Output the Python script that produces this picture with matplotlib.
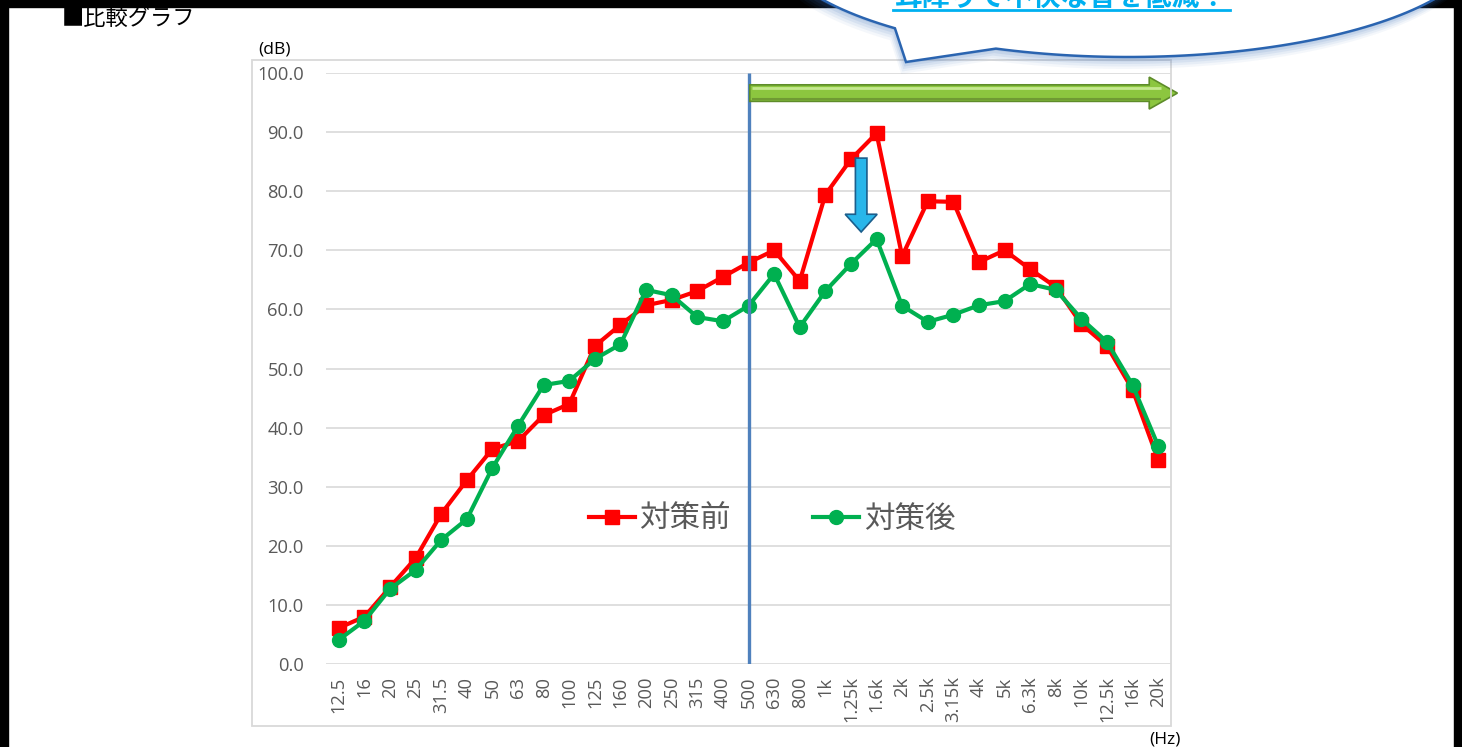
import numpy as np
import matplotlib
matplotlib.use('Agg')
import matplotlib.pyplot as plt
from matplotlib.patches import Polygon, Rectangle, FancyArrow

plt.rcParams['font.family'] = ['Open Sans', 'Noto Sans CJK JP', 'DejaVu Sans']

# 1/3 octave band centre frequencies
freqs = ['12.5', '16', '20', '25', '31.5', '40', '50', '63', '80', '100',
         '125', '160', '200', '250', '315', '400', '500', '630', '800', '1k',
         '1.25k', '1.6k', '2k', '2.5k', '3.15k', '4k', '5k', '6.3k', '8k',
         '10k', '12.5k', '16k', '20k']

# sound level (dB) before / after countermeasure
before = [6.1, 8.0, 13.0, 17.9, 25.4, 31.1, 36.4, 37.7, 42.1, 44.0,
          53.8, 57.4, 60.7, 61.6, 63.1, 65.5, 67.9, 70.0, 64.8, 79.4,
          85.4, 89.8, 69.0, 78.3, 78.2, 68.0, 70.0, 66.8, 63.8,
          57.5, 53.8, 46.4, 34.5]
after = [4.1, 7.3, 12.7, 15.9, 21.0, 24.5, 33.2, 40.3, 47.2, 47.9,
         51.6, 54.1, 63.3, 62.4, 58.7, 58.0, 60.6, 66.0, 57.0, 63.1,
         67.7, 71.9, 60.6, 57.9, 59.1, 60.7, 61.4, 64.3, 63.3,
         58.4, 54.5, 47.2, 36.9]

labels = ['対策前', '対策後']
title = '■比較グラフ'
callout = '耳障りで不快な音を低減！'

W, H = 1462, 747
fig = plt.figure(figsize=(W / 100, H / 100), dpi=100)
fig.patch.set_facecolor('white')

# main plot area (pixel box 326..1171 x, 73..664 y)
ax = fig.add_axes([326 / W, (H - 664) / H, 845 / W, 591 / H], zorder=1)
x = np.arange(len(freqs))
ax.plot(x, before, color='#ff0000', lw=3, marker='s', ms=10,
        label=labels[0], zorder=4)
ax.plot(x, after, color='#00b050', lw=3, marker='o', ms=10,
        label=labels[1], zorder=5)
ax.vlines(freqs.index('500'), 0, 100, color='#4f81bd', lw=2.4, zorder=6)

ax.set_xlim(-0.5, len(freqs) - 0.5)
ax.set_ylim(0, 100)
ax.set_yticks(np.arange(0, 101, 10))
ax.set_yticklabels([f'{v:.1f}' for v in np.arange(0, 101, 10)])
ax.set_xticks(x)
ax.set_xticklabels(freqs, rotation=90)
ax.tick_params(axis='y', length=0, pad=16, labelsize=13.2, labelcolor='#595959')
ax.tick_params(axis='x', length=0, pad=9, labelsize=13.2, labelcolor='#595959')
ax.yaxis.grid(True, color='#d9d9d9', lw=1.2)
ax.set_axisbelow(True)
for s in ax.spines.values():
    s.set_visible(False)

# green range arrow (500 Hz and above)
i500 = freqs.index('500')
ga = FancyArrow(i500 + 0.05, 96.6, len(freqs) - 0.5 - (i500 + 0.05) + 0.25, 0,
                width=2.8, head_width=5.4, head_length=1.1,
                length_includes_head=True, fc='#8cc63f', ec='#5e8c2a',
                lw=1.2, clip_on=False, zorder=8)
ax.add_patch(ga)
ax.plot([i500 + 0.15, len(freqs) - 0.9], [97.5, 97.5], color='#c5e88f',
        lw=2, clip_on=False, zorder=9, solid_capstyle='butt')
ax.plot([i500 + 0.15, len(freqs) - 0.9], [95.6, 95.6], color='#6f9a33',
        lw=1.5, clip_on=False, zorder=9, solid_capstyle='butt')

# blue reduction arrow near the peak
ba = FancyArrow(20.4, 85.6, 0, -12.5, width=0.45, head_width=1.25,
                head_length=3.0, length_includes_head=True,
                fc='#29b6ea', ec='#1b5e8c', lw=1.2, clip_on=False, zorder=8)
ax.add_patch(ba)

leg = ax.legend(ncol=2, loc='center', bbox_to_anchor=(772 / W, (H - 519) / H),
                bbox_transform=fig.transFigure, frameon=False,
                prop={'family': ['Noto Sans CJK JP'], 'size': 22},
                handlelength=1.5, handletextpad=0.15, columnspacing=2.7)
for t in leg.get_texts():
    t.set_color('#595959')

# overlay in pixel coordinates for page decorations
ov = fig.add_axes([0, 0, 1, 1], zorder=3)
ov.set_xlim(0, W)
ov.set_ylim(H, 0)
ov.axis('off')
ov.patch.set_visible(False)

# chart frame
ov.add_patch(Rectangle((252, 60), 919, 666, fill=False, ec='#d9d9d9', lw=1.3))

# page border
ov.add_patch(Rectangle((0, 0), 8, H, color='black'))
ov.add_patch(Rectangle((0, 0), 1461, 7, color='black'))
ov.add_patch(Rectangle((1454, 0), 7, H, color='black'))

ov.text(62, 18, title, fontsize=16, va='center', ha='left',
        family=['Noto Sans CJK JP'])
ov.text(258, 49, '(dB)', fontsize=12.5, va='center', ha='left')
ov.text(1149, 732, '(Hz)', fontsize=12.5, va='top', ha='left')

# speech bubble at top right
cx, cy, a, b = 1128, -60, 355, 117
t1 = np.linspace(-0.3, 1.952, 80)
t2 = np.linspace(2.287, 2 * np.pi - 0.3, 120)
pts = [(cx + a * np.cos(t), cy + b * np.sin(t)) for t in t1]
pts.append((906, 62))
pts += [(cx + a * np.cos(t), cy + b * np.sin(t)) for t in t2]
pts = np.array(pts)
for k, al in enumerate([0.05, 0.07, 0.09, 0.11, 0.13]):
    off = 12 - k * 2.5
    ov.add_patch(Polygon(pts + [-off * 0.4, off], closed=True, fc='#3a6fb8',
                         ec='none', alpha=al))
ov.add_patch(Polygon(pts, closed=True, fc='white', ec='#2a64b0', lw=1.8))
ov.text(1061, 6, callout, fontsize=20, fontweight='bold', color='#00b0f0',
        ha='center', va='baseline', family=['Noto Sans CJK JP'])
ov.plot([893, 1230], [10, 10], color='#00b0f0', lw=2)

fig.savefig('out.png', dpi=100)
